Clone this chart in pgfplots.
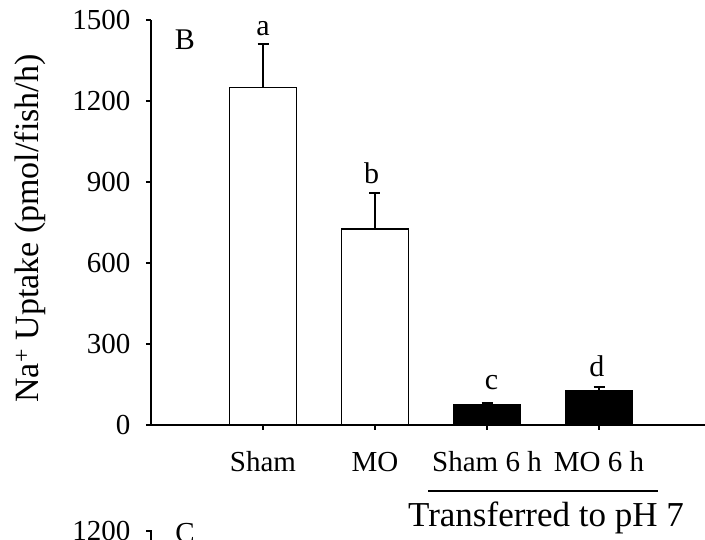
\documentclass[border=0pt]{standalone}
\usepackage{pgfplots}
\pgfplotsset{compat=1.18}
\usepackage{fontspec}
\setmainfont{Liberation Serif}

\begin{document}
\begin{tikzpicture}[x=1pt,y=1pt]
\useasboundingbox (0,0) rectangle (705,540);
\clip (0,0) rectangle (705,540);
\begin{axis}[
  at={(151pt,115pt)}, anchor=south west,
  scale only axis, width=672pt, height=405pt,
  xmin=0, xmax=6, ymin=0, ymax=1500,
  axis x line*=bottom, axis y line*=left,
  axis line style={line width=1.6pt},
  every tick/.style={black, line width=1.6pt},
  tick align=outside, major tick length=5pt,
  xtick={1,2,3,4},
  xticklabels={Sham, MO, Sham 6 h, MO 6 h},
  ytick={0,300,600,900,1200,1500},
  /pgf/number format/assume math mode=true,
  /pgf/number format/1000 sep={},
  ticklabel style={font=\fontsize{29}{32}\selectfont},
  xticklabel style={anchor=base, yshift=-42pt},
  yticklabel style={xshift=-12pt},
  ylabel={Na\textsuperscript{+} Uptake (pmol/fish/h)},
  every axis y label/.style={at={(rel axis cs:0,0.5)}, rotate=90, anchor=center,
    yshift=121pt, xshift=-6pt, font=\fontsize{34}{38}\selectfont},
  ybar, bar width=67pt, bar shift=0pt,
  clip=false,
  error bars/y dir=plus, error bars/y explicit,
  error bars/error bar style={line width=1.6pt, black},
  error bars/error mark options={line width=1.6pt, black, mark size=5.5pt, rotate=90},
]
% Untreated groups (open bars)
\addplot[draw=black, fill=white, line width=1.6pt]
  coordinates {(1,1250) +- (0,160) (2,725) +- (0,135)};
% Transferred to pH 7 (solid bars)
\addplot[draw=black, fill=black, line width=1.6pt]
  coordinates {(3,75) +- (0,6) (4,125) +- (0,15)};
% Significance letters
\node[anchor=base, font=\fontsize{30}{32}\selectfont] at (axis cs:1,1444) {a};
\node[anchor=base, font=\fontsize{30}{32}\selectfont] at (axis cs:1.97,896) {b};
\node[anchor=base, font=\fontsize{30}{32}\selectfont] at (axis cs:3.04,133) {c};
\node[anchor=base, font=\fontsize{30}{32}\selectfont] at (axis cs:3.98,181) {d};
\end{axis}
% Panel letter
\node[anchor=base, font=\fontsize{30}{32}\selectfont] at (185,490) {B};
% Group bracket
\draw[line width=1.4pt] (428,49) -- (658,49);
\node[anchor=base, font=\fontsize{35}{38}\selectfont] at (546,13) {Transferred to pH 7};
% Top of the next panel
\draw[line width=1.6pt] (146,9) -- (151,9) -- (151,-5);
\node[anchor=east, font=\fontsize{29}{32}\selectfont] at (134,9) {1200};
\node[anchor=base, font=\fontsize{29}{32}\selectfont] at (185,-3) {C};
\end{tikzpicture}
\end{document}
